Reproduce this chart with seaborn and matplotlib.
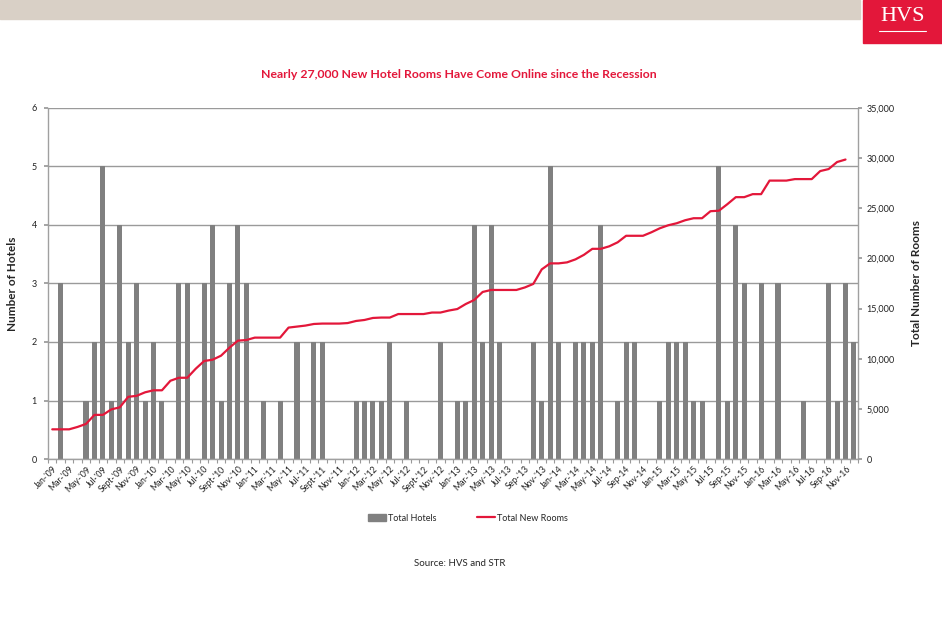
import numpy as np
import pandas as pd
import matplotlib
matplotlib.use("Agg")
import matplotlib.pyplot as plt
import matplotlib.patches as mpatches
from matplotlib.lines import Line2D
from matplotlib.ticker import FuncFormatter
import seaborn as sns

# monthly data Jan '09 - Dec '16
years = ["'09", "'10", "'11", "'12", "'13", "'14", "15", "16"]
month_names = ["Jan", "Feb", "Mar", "Apr", "May", "Jun",
               "Jul", "Aug", "Sept", "Oct", "Nov", "Dec"]

hotels = [
    0, 3, 0, 0, 1, 2, 5, 1, 4, 2, 3, 1,    # 2009
    2, 1, 0, 3, 3, 0, 3, 4, 1, 3, 4, 3,    # 2010
    0, 1, 0, 1, 0, 2, 0, 2, 2, 0, 0, 0,    # 2011
    1, 1, 1, 1, 2, 0, 1, 0, 0, 0, 2, 0,    # 2012
    1, 1, 4, 2, 4, 2, 0, 0, 0, 2, 1, 5,    # 2013
    2, 0, 2, 2, 2, 4, 0, 1, 2, 2, 0, 0,    # 2014
    1, 2, 2, 2, 1, 1, 0, 5, 1, 4, 3, 0,    # 2015
    3, 0, 3, 0, 0, 1, 0, 0, 3, 1, 3, 2,    # 2016
]

rooms = [
    2960, 2960, 2960, 3200, 3500, 4400, 4400, 4950, 5150, 6200, 6300, 6650,
    6850, 6850, 7800, 8100, 8100, 9000, 9770, 9900, 10300, 11100, 11800, 11860,
    12100, 12100, 12100, 12100, 13100, 13200, 13300, 13460, 13500, 13500, 13500, 13550,
    13760, 13860, 14060, 14100, 14100, 14450, 14450, 14450, 14450, 14600, 14600, 14800,
    14950, 15450, 15850, 16650, 16850, 16850, 16850, 16850, 17100, 17450, 18900, 19500,
    19500, 19600, 19900, 20350, 20950, 20950, 21200, 21600, 22250, 22250, 22250, 22600,
    23000, 23300, 23500, 23800, 24000, 24000, 24700, 24750, 25400, 26100, 26100, 26400,
    26400, 27750, 27750, 27750, 27900, 27900, 27900, 28700, 28900, 29600, 29850, np.nan,
]


def month_label(i):
    m = i % 12
    y = i // 12
    name = month_names[m]
    if y >= 4 and name == "Sept":
        name = "Sep"
    yr = years[y]
    if y == 5 and m >= 8:
        yr = "14"
    return name + "-" + yr


labels = [month_label(i) for i in range(len(hotels))]
df = pd.DataFrame({"month": labels, "pos": np.arange(len(hotels)),
                   "hotels": hotels, "rooms": rooms})

sns.set_theme(style="white")
plt.rcParams['font.family'] = ['Lato', 'DejaVu Sans']

RED = "#e3173a"
GREY = "#808080"

fig = plt.figure(figsize=(9.42, 6.42), dpi=100)
ax = fig.add_axes([0.051, 0.285, 0.860, 0.547])

sns.barplot(data=df, x="month", y="hotels", order=labels, color=GREY,
            saturation=1, width=0.6, ax=ax, linewidth=0)
ax.set_ylim(0, 6)
ax.set_xlim(-0.5, len(hotels) - 0.5)
ax.set_yticks(range(0, 7))
ax.yaxis.grid(True, color="#9a9a9a", linewidth=1.0)
ax.set_axisbelow(True)

ax.set_xticks(np.arange(0, len(hotels), 2))
ax.set_xticklabels(labels[::2], rotation=45, ha="right", rotation_mode="anchor",
                   fontsize=6.2, color="#222222")
ax.set_xticks(np.arange(-0.5, len(hotels), 1), minor=True)
ax.tick_params(axis="x", which="major", length=0, pad=4)
ax.tick_params(axis="x", which="minor", length=3, color="#999999", width=0.8,
               bottom=True)
ax.tick_params(axis="y", labelsize=6.5, length=3, color="#999999", left=True,
               pad=5, labelcolor="#222222")
ax.set_xlabel("")
ax.set_ylabel("Number of Hotels", fontsize=8.5, fontweight="bold", labelpad=10)
for s in ["left", "right", "bottom"]:
    ax.spines[s].set_color("#a0a0a0")
    ax.spines[s].set_linewidth(1.0)
ax.spines["top"].set_visible(False)

ax2 = ax.twinx()
sns.lineplot(data=df, x="pos", y="rooms", color=RED, linewidth=1.6, ax=ax2)
ax2.set_ylim(0, 35000)
ax2.set_xlim(-0.5, len(hotels) - 0.5)
ax2.set_yticks(range(0, 35001, 5000))
ax2.yaxis.set_major_formatter(FuncFormatter(lambda v, p: f"{int(v):,}"))
ax2.tick_params(axis="y", labelsize=6.5, length=3, color="#999999", right=True,
                pad=3, labelcolor="#222222")
ax2.set_ylabel("Total Number of Rooms", fontsize=8.5, fontweight="bold",
               labelpad=12)
ax2.set_xlabel("")
for s in ax2.spines.values():
    s.set_visible(False)

fig.text(0.487, 0.884, "Nearly 27,000 New Hotel Rooms Have Come Online since the Recession",
         ha="center", va="center", color=RED, fontsize=8.8, fontweight="bold")

handles = [mpatches.Patch(color=GREY), Line2D([0], [0], color=RED, lw=1.6)]
fig.legend(handles, ["Total Hotels", "Total New Rooms"], loc="center",
           bbox_to_anchor=(0.497, 0.193), ncol=2, frameon=False, fontsize=6.5,
           handlelength=2.0, handletextpad=0.2, columnspacing=4.5)

fig.text(0.488, 0.123, "Source: HVS and STR", ha="center", va="center",
         fontsize=7)

# header band and logo
fig.patches.append(mpatches.Rectangle((0, 0.9704), 0.913, 0.0296,
                                      transform=fig.transFigure,
                                      color="#d9d0c6", zorder=0))
fig.patches.append(mpatches.Rectangle((0.9165, 0.933), 0.0835, 0.067,
                                      transform=fig.transFigure,
                                      color=RED, zorder=0))
fig.text(0.958, 0.975, "HVS", ha="center", va="center", color="white",
         fontsize=16, family="Liberation Serif")
fig.add_artist(Line2D([0.933, 0.983], [0.952, 0.952], color="white", lw=0.8,
                      transform=fig.transFigure))

fig.savefig("out.png", dpi=100)
